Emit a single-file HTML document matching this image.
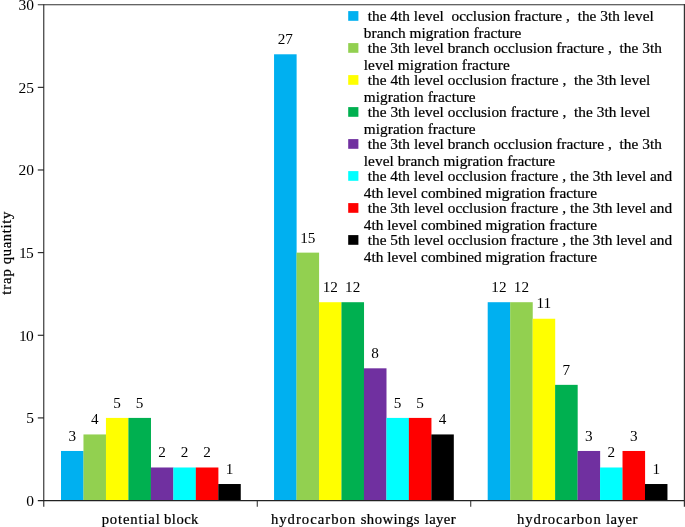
<!DOCTYPE html>
<html><head><meta charset="utf-8"><title>trap quantity chart</title>
<style>html,body{margin:0;padding:0;background:#fff}svg{display:block}text{font-family:"Liberation Serif",serif;fill:#000;stroke:#000;stroke-width:0.22px;white-space:pre}text.n{stroke:none}</style></head><body>
<svg width="685" height="527" viewBox="0 0 685 527">
<rect x="0" y="0" width="685" height="527" fill="#fff"/>
<rect x="61.00" y="450.97" width="22.57" height="49.58" fill="#00B0F0"/>
<text x="72.23" y="440.67" font-size="15.2" text-anchor="middle" class="n">3</text>
<rect x="83.47" y="434.44" width="22.57" height="66.11" fill="#92D050"/>
<text x="94.70" y="424.14" font-size="15.2" text-anchor="middle" class="n">4</text>
<rect x="105.94" y="417.91" width="22.57" height="82.64" fill="#FFFF00"/>
<text x="117.17" y="407.61" font-size="15.2" text-anchor="middle" class="n">5</text>
<rect x="128.41" y="417.91" width="22.57" height="82.64" fill="#00B050"/>
<text x="139.64" y="407.61" font-size="15.2" text-anchor="middle" class="n">5</text>
<rect x="150.88" y="467.49" width="22.57" height="33.06" fill="#7030A0"/>
<text x="162.12" y="457.19" font-size="15.2" text-anchor="middle" class="n">2</text>
<rect x="173.35" y="467.49" width="22.57" height="33.06" fill="#00FFFF"/>
<text x="184.58" y="457.19" font-size="15.2" text-anchor="middle" class="n">2</text>
<rect x="195.82" y="467.49" width="22.57" height="33.06" fill="#FF0000"/>
<text x="207.06" y="457.19" font-size="15.2" text-anchor="middle" class="n">2</text>
<rect x="218.29" y="484.02" width="22.47" height="16.53" fill="#000000"/>
<text x="229.52" y="473.72" font-size="15.2" text-anchor="middle" class="n">1</text>
<rect x="274.05" y="54.29" width="22.57" height="446.26" fill="#00B0F0"/>
<text x="285.29" y="43.99" font-size="15.2" text-anchor="middle" class="n">27</text>
<rect x="296.52" y="252.63" width="22.57" height="247.92" fill="#92D050"/>
<text x="307.75" y="243.23" font-size="15.2" text-anchor="middle" class="n">15</text>
<rect x="318.99" y="302.21" width="22.57" height="198.34" fill="#FFFF00"/>
<text x="330.23" y="291.91" font-size="15.2" text-anchor="middle" class="n">12</text>
<rect x="341.46" y="302.21" width="22.57" height="198.34" fill="#00B050"/>
<text x="352.70" y="291.91" font-size="15.2" text-anchor="middle" class="n">12</text>
<rect x="363.93" y="368.32" width="22.57" height="132.23" fill="#7030A0"/>
<text x="375.17" y="358.02" font-size="15.2" text-anchor="middle" class="n">8</text>
<rect x="386.40" y="417.91" width="22.57" height="82.64" fill="#00FFFF"/>
<text x="397.63" y="407.61" font-size="15.2" text-anchor="middle" class="n">5</text>
<rect x="408.87" y="417.91" width="22.57" height="82.64" fill="#FF0000"/>
<text x="420.11" y="407.61" font-size="15.2" text-anchor="middle" class="n">5</text>
<rect x="431.34" y="434.44" width="22.47" height="66.11" fill="#000000"/>
<text x="442.58" y="424.14" font-size="15.2" text-anchor="middle" class="n">4</text>
<rect x="487.70" y="302.21" width="22.57" height="198.34" fill="#00B0F0"/>
<text x="498.94" y="291.91" font-size="15.2" text-anchor="middle" class="n">12</text>
<rect x="510.17" y="302.21" width="22.57" height="198.34" fill="#92D050"/>
<text x="521.40" y="291.91" font-size="15.2" text-anchor="middle" class="n">12</text>
<rect x="532.64" y="318.74" width="22.57" height="181.81" fill="#FFFF00"/>
<text x="543.88" y="308.44" font-size="15.2" text-anchor="middle" class="n">11</text>
<rect x="555.11" y="384.85" width="22.57" height="115.70" fill="#00B050"/>
<text x="566.35" y="374.55" font-size="15.2" text-anchor="middle" class="n">7</text>
<rect x="577.58" y="450.97" width="22.57" height="49.58" fill="#7030A0"/>
<text x="588.81" y="440.67" font-size="15.2" text-anchor="middle" class="n">3</text>
<rect x="600.05" y="467.49" width="22.57" height="33.06" fill="#00FFFF"/>
<text x="611.28" y="457.19" font-size="15.2" text-anchor="middle" class="n">2</text>
<rect x="622.52" y="450.97" width="22.57" height="49.58" fill="#FF0000"/>
<text x="633.75" y="440.67" font-size="15.2" text-anchor="middle" class="n">3</text>
<rect x="644.99" y="484.02" width="22.47" height="16.53" fill="#000000"/>
<text x="656.23" y="473.72" font-size="15.2" text-anchor="middle" class="n">1</text>
<g stroke="#303030" stroke-width="1.05" fill="none">
<path d="M37.8 4.7 H684.5"/>
<path d="M684.5 4.1000000000000005 V506.85" stroke="#333" stroke-width="1.4"/>
<path d="M43.76 4.2 V506.85" stroke-width="1.15"/>
<path d="M37.8 500.55 H684.2" stroke="#222" stroke-width="1.25"/>
<path d="M257.27 500.55 v6.3"/>
<path d="M470.73 500.55 v6.3"/>
<path d="M37.8 417.91 H43.8" stroke="#1c1c1c" stroke-width="1.1"/>
<path d="M37.8 335.27 H43.8" stroke="#1c1c1c" stroke-width="1.1"/>
<path d="M37.8 252.63 H43.8" stroke="#1c1c1c" stroke-width="1.1"/>
<path d="M37.8 169.98 H43.8" stroke="#1c1c1c" stroke-width="1.1"/>
<path d="M37.8 87.34 H43.8" stroke="#1c1c1c" stroke-width="1.1"/>
</g>
<text class="n" x="34" y="505.90" font-size="15.5" text-anchor="end">0</text>
<text class="n" x="34" y="423.26" font-size="15.5" text-anchor="end">5</text>
<text class="n" x="33.10" y="340.62" font-size="15.5" text-anchor="end" letter-spacing="-0.7">10</text>
<text class="n" x="33.10" y="257.98" font-size="15.5" text-anchor="end" letter-spacing="-0.7">15</text>
<text class="n" x="34" y="175.33" font-size="15.5" text-anchor="end">20</text>
<text class="n" x="34" y="92.69" font-size="15.5" text-anchor="end">25</text>
<text class="n" x="34" y="10.05" font-size="15.5" text-anchor="end">30</text>
<text transform="translate(11.1,294.6) rotate(-90)" font-size="14.7"><tspan x="-0.20" letter-spacing="0.949">trap </tspan><tspan x="30.30" letter-spacing="0.646">quantity</tspan></text>
<text y="523.8" font-size="14.7"><tspan x="101.70" letter-spacing="0.833">potential </tspan><tspan x="164.10" letter-spacing="0.435">block</tspan></text>
<text y="523.8" font-size="14.7"><tspan x="270.90" letter-spacing="1.011">hydrocarbon </tspan><tspan x="360.70" letter-spacing="0.466">showings </tspan><tspan x="424.70" letter-spacing="0.405">layer</tspan></text>
<text y="523.8" font-size="14.7"><tspan x="517.00" letter-spacing="0.951">hydrocarbon </tspan><tspan x="605.90" letter-spacing="0.530">layer</tspan></text>
<rect x="348.2" y="11.10" width="10.2" height="9.7" fill="#00B0F0"/>
<text x="367.70" y="20.50" font-size="15.3" letter-spacing="0.038">the 4th level  occlusion fracture ,  the 3th level</text>
<text x="363.80" y="38.15" font-size="15.3" letter-spacing="0.053">branch migration fracture</text>
<rect x="348.2" y="43.10" width="10.2" height="9.7" fill="#92D050"/>
<text x="367.70" y="52.50" font-size="15.3" letter-spacing="0.039">the 3th level branch occlusion fracture ,  the 3th</text>
<text x="363.80" y="70.15" font-size="15.3" letter-spacing="0.068">level migration fracture</text>
<rect x="348.2" y="75.10" width="10.2" height="9.7" fill="#FFFF00"/>
<text x="367.70" y="84.50" font-size="15.3" letter-spacing="0.046">the 4th level occlusion fracture ,  the 3th level</text>
<text x="363.80" y="102.15" font-size="15.3" letter-spacing="0.055">migration fracture</text>
<rect x="348.2" y="107.10" width="10.2" height="9.7" fill="#00B050"/>
<text x="367.70" y="116.50" font-size="15.3" letter-spacing="0.046">the 3th level occlusion fracture ,  the 3th level</text>
<text x="363.80" y="134.15" font-size="15.3" letter-spacing="0.055">migration fracture</text>
<rect x="348.2" y="139.10" width="10.2" height="9.7" fill="#7030A0"/>
<text x="367.70" y="148.50" font-size="15.3" letter-spacing="0.039">the 3th level branch occlusion fracture ,  the 3th</text>
<text x="363.80" y="166.15" font-size="15.3" letter-spacing="0.047">level branch migration fracture</text>
<rect x="348.2" y="171.10" width="10.2" height="9.7" fill="#00FFFF"/>
<text x="367.70" y="180.50" font-size="15.3" letter-spacing="0.041">the 4th level occlusion fracture , the 3th level and</text>
<text x="363.80" y="198.15" font-size="15.3" letter-spacing="0.034">4th level combined migration fracture</text>
<rect x="348.2" y="203.10" width="10.2" height="9.7" fill="#FF0000"/>
<text x="367.70" y="212.50" font-size="15.3" letter-spacing="0.041">the 3th level occlusion fracture , the 3th level and</text>
<text x="363.80" y="230.15" font-size="15.3" letter-spacing="0.034">4th level combined migration fracture</text>
<rect x="348.2" y="235.10" width="10.2" height="9.7" fill="#000000"/>
<text x="367.70" y="244.50" font-size="15.3" letter-spacing="0.041">the 5th level occlusion fracture , the 3th level and</text>
<text x="363.80" y="262.15" font-size="15.3" letter-spacing="0.034">4th level combined migration fracture</text>
</svg></body></html>
